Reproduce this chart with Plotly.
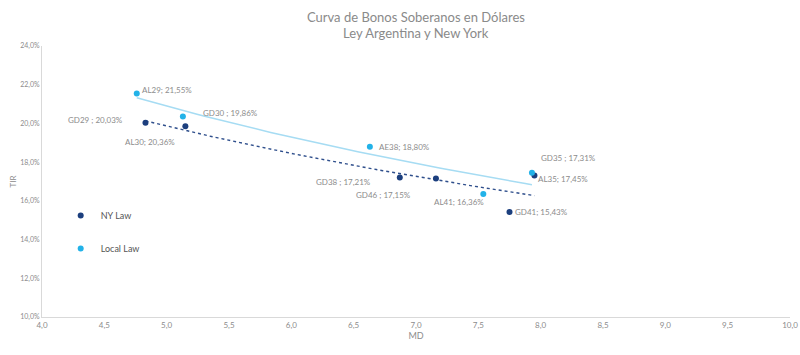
import numpy as np
import plotly.graph_objects as go

# NY Law bonds
ny_names = ["GD29", "GD30", "GD38", "GD46", "GD35", "GD41"]
ny_md = [4.83, 5.15, 6.87, 7.16, 7.95, 7.75]
ny_tir = [20.03, 19.86, 17.21, 17.15, 17.31, 15.43]

# Local Law bonds
loc_names = ["AL29", "AL30", "AE38", "AL41", "AL35"]
loc_md = [4.76, 5.13, 6.63, 7.54, 7.93]
loc_tir = [21.55, 20.36, 18.80, 16.36, 17.45]

ny_color = "#1c3f7e"
loc_color = "#22b2e8"
text_gray = "#8c8c8c"
font_family = "Lato, 'Noto Sans', sans-serif"


def fmt(name, v, sep):
    return f"{name}{sep}{v:.2f}%".replace(".", ",")


def log_fit(x, y):
    x = np.array(x)
    y = np.array(y)
    b, a = np.polyfit(np.log(x), y, 1)
    xs = np.linspace(x.min(), x.max(), 60)
    return xs, a + b * np.log(xs)


fig = go.Figure()

xs, ys = log_fit(loc_md, loc_tir)
fig.add_trace(go.Scatter(x=xs, y=ys, mode="lines", line=dict(color="#a6dcf3", width=1.5),
                         showlegend=False, hoverinfo="skip"))
xs, ys = log_fit(ny_md, ny_tir)
fig.add_trace(go.Scatter(x=xs, y=ys, mode="lines", line=dict(color="#2f4f8c", width=1.4, dash="dot"),
                         showlegend=False, hoverinfo="skip"))

fig.add_trace(go.Scatter(x=ny_md, y=ny_tir, mode="markers", name="NY Law",
                         marker=dict(color=ny_color, size=6), legendgroup="ny"))
fig.add_trace(go.Scatter(x=loc_md, y=loc_tir, mode="markers", name="Local Law",
                         marker=dict(color=loc_color, size=6), legendgroup="loc"))

# label offsets (pixels) per point: (xanchor, xshift, yshift, separator)
ny_lab = {
    "GD29": ("right", -20, 3, " ; "),
    "GD30": ("left", 16, 13, " ; "),
    "GD38": ("right", -27, -5, " ; "),
    "GD46": ("right", -23, -16, " ; "),
    "GD35": ("left", 5, 18, " ; "),
    "GD41": ("left", 3, 0, "; "),
}
loc_lab = {
    "AL29": ("left", 3, 3, "; "),
    "AL30": ("right", -6, -26, "; "),
    "AE38": ("left", 7, 0, "; "),
    "AL41": ("right", 3, -8, "; "),
    "AL35": ("left", 4, -6, "; "),
}
for names, md, tir, lab in [(ny_names, ny_md, ny_tir, ny_lab), (loc_names, loc_md, loc_tir, loc_lab)]:
    for n, x, y in zip(names, md, tir):
        anchor, xs_, ys_, sep = lab[n]
        fig.add_annotation(x=x, y=y, text=fmt(n, y, sep), showarrow=False,
                           xanchor=anchor, yanchor="middle", xshift=xs_, yshift=ys_,
                           font=dict(size=8, color=text_gray, family=font_family))

title_lines = ["Curva de Bonos Soberanos en Dólares", "Ley Argentina y New York"]
for i, line in enumerate(title_lines):
    fig.add_annotation(xref="paper", yref="paper", x=0.5, y=1, yshift=29 - 16 * i,
                       text=line, showarrow=False, xanchor="center", yanchor="middle",
                       font=dict(size=13, color="#8a8a8a", family=font_family))

fig.update_layout(
    width=800, height=355,
    paper_bgcolor="white", plot_bgcolor="white",
    separators=",.",
    margin=dict(l=42, r=10, t=46, b=38, autoexpand=False),
    font=dict(family=font_family, color=text_gray),
    legend=dict(x=0.025, y=0.428, xanchor="left", yanchor="top",
                bgcolor="rgba(0,0,0,0)", tracegroupgap=14,
                font=dict(size=9, color="#555555", family=font_family)),
    xaxis=dict(range=[4, 10], dtick=0.5, tickformat=".1f", showgrid=False, zeroline=False,
               showline=True, linecolor="#d9d9d9", linewidth=1, ticks="", automargin=False,
               ticklabeloverflow="allow",
               tickfont=dict(size=8, color=text_gray),
               title=dict(text="MD", font=dict(size=9, color=text_gray), standoff=4)),
    yaxis=dict(range=[10, 24], dtick=2, tickformat=".1f", ticksuffix="%", showgrid=False,
               zeroline=False, showline=True, linecolor="#d9d9d9", linewidth=1, ticks="",
               automargin=False,
               tickfont=dict(size=7, color=text_gray),
               title=dict(text="TIR", font=dict(size=8, color=text_gray), standoff=2)),
)

fig.write_html("out.html", config={"displayModeBar": False},
               post_script="document.body.style.margin='0';document.body.style.overflow='hidden';")
